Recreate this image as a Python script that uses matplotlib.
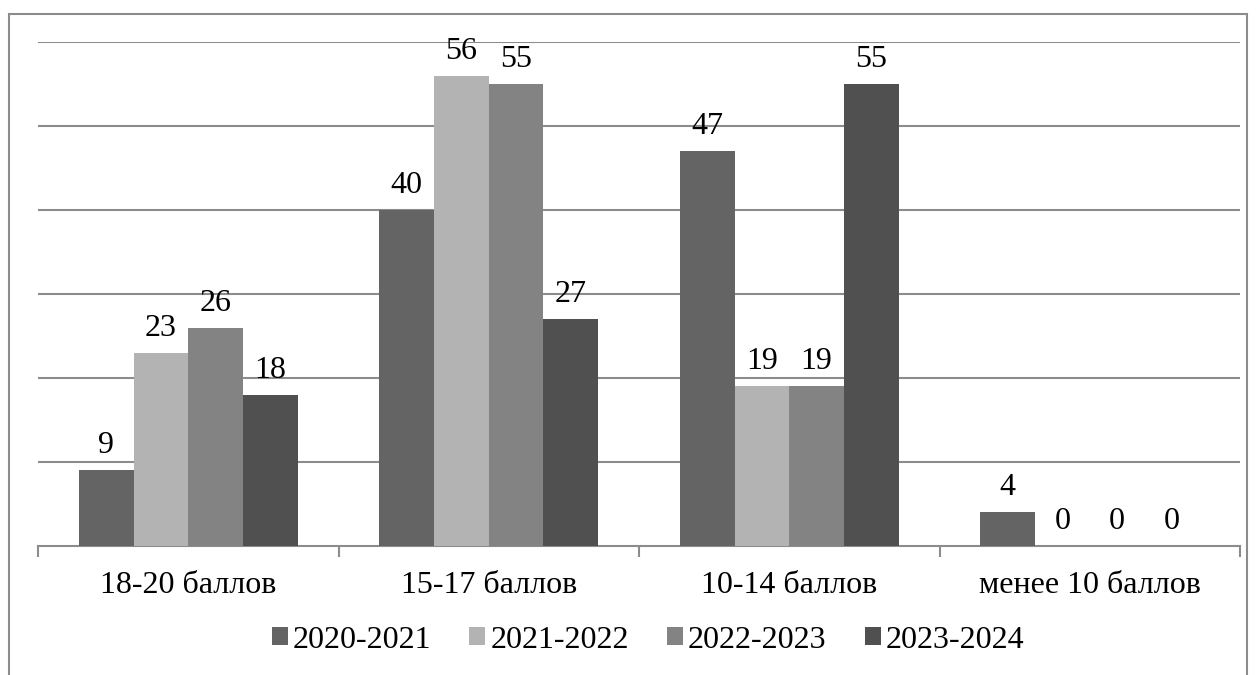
import numpy as np
import matplotlib
matplotlib.use("Agg")
import matplotlib.pyplot as plt
from matplotlib.patches import Rectangle

plt.rcParams['font.family'] = ['Liberation Serif', 'DejaVu Serif']

categories = ["18-20 баллов", "15-17 баллов", "10-14 баллов", "менее 10 баллов"]
years = ["2020-2021", "2021-2022", "2022-2023", "2023-2024"]
v2020 = [9, 40, 47, 4]
v2021 = [23, 56, 19, 0]
v2022 = [26, 55, 19, 0]
v2023 = [18, 27, 55, 0]
series = [v2020, v2021, v2022, v2023]
colors = ["#646464", "#b3b3b3", "#838383", "#505050"]

fig = plt.figure(figsize=(12.56, 6.75), dpi=100)
ax = fig.add_axes([38/1256, (675-546)/675, (1240-38)/1256, (546-42)/675])

# outer border of the chart area
fig.patches.append(Rectangle((9/1256, -0.05), (1247-9)/1256, 1.05 - 14/675,
                             transform=fig.transFigure, fill=False,
                             edgecolor="#8c8c8c", linewidth=1.5))

x = np.arange(len(categories))
w = 0.182
for i, vals in enumerate(series):
    pos = x + (i - 1.5) * w
    bars = ax.bar(pos, vals, w, color=colors[i], label=years[i], zorder=3)
    for b, v in zip(bars, vals):
        ax.text(b.get_x() + b.get_width()/2, v + 1.2, str(v),
                ha="center", va="bottom", fontsize=23, color="black")

ax.set_xlim(-0.5, 3.5)
ax.set_ylim(0, 60)
ax.set_yticks(np.arange(10, 61, 10))
ax.yaxis.grid(True, color="#8c8c8c", linewidth=1.5, zorder=0)
ax.tick_params(axis="y", left=False, labelleft=False)
ax.set_xticks(x)
ax.set_xticklabels(categories, fontsize=23)
ax.tick_params(axis="x", length=0, pad=18)
ax.set_xticks(np.arange(-0.5, 4, 1), minor=True)
ax.tick_params(axis="x", which="minor", length=8, color="#8c8c8c", width=1.5)
for s in ["top", "right", "left"]:
    ax.spines[s].set_visible(False)
ax.spines["bottom"].set_color("#8c8c8c")
ax.spines["bottom"].set_linewidth(1.5)

fig.legend(loc="center", bbox_to_anchor=(648/1256, 1 - 640/675), ncol=4,
           frameon=False, fontsize=23, handlelength=0.5, handleheight=0.5,
           handletextpad=0.15, columnspacing=1.2)

fig.savefig("out.png", dpi=100)
